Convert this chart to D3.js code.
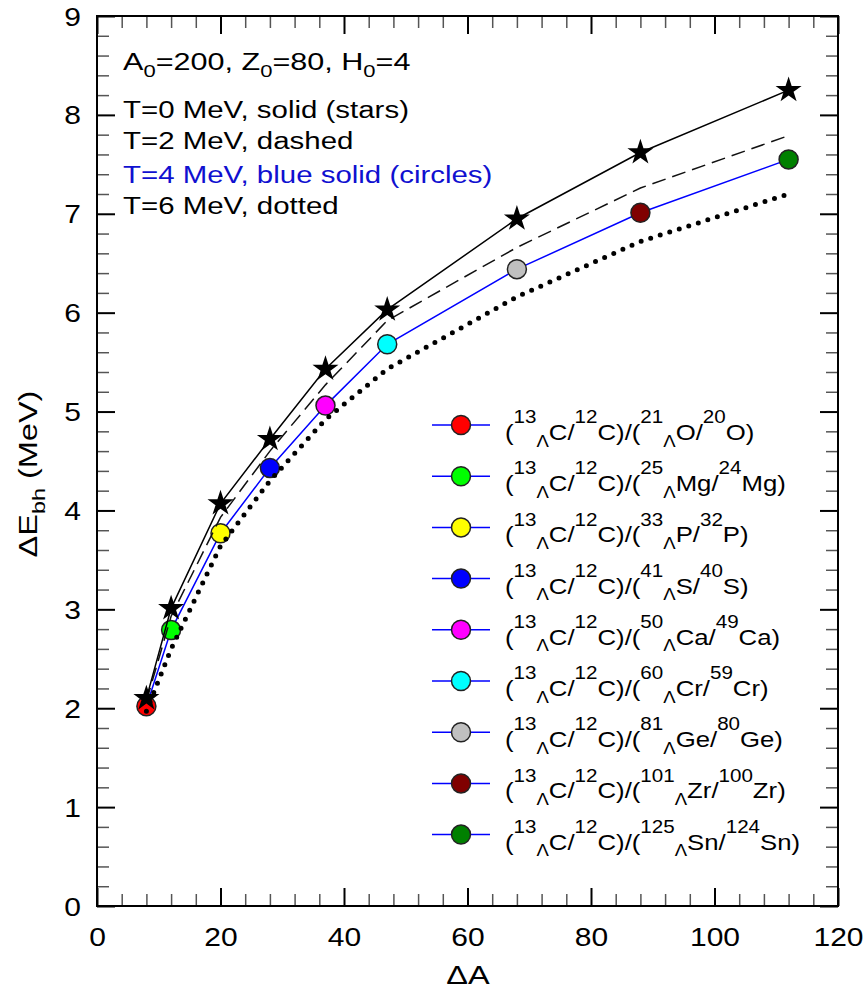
<!DOCTYPE html>
<html>
<head>
<meta charset="utf-8">
<script src="https://cdn.jsdelivr.net/npm/d3@7"></script>
<style>
  body { margin: 0; background: #fff; }
  svg { display: block; }
  text { font-family: "Liberation Sans", Arial, sans-serif; }
</style>
</head>
<body>
<svg id="chart" width="865" height="992"></svg>
<script>

// mass difference dA = A - 13 for each pair
let deltaA = [8, 12, 20, 28, 37, 47, 68, 88, 112];

// dE_bh (MeV) at each temperature
let eT0 = [2.10, 3.01, 4.07, 4.72, 5.43, 6.03, 6.95, 7.62, 8.25];
let eT2 = [2.07, 2.93, 3.93, 4.60, 5.27, 5.92, 6.66, 7.26, 7.79];
let eT4 = [2.02, 2.79, 3.77, 4.43, 5.06, 5.68, 6.44, 7.01, 7.55];
let eT6 = [1.97, 2.60, 3.64, 4.30, 4.92, 5.43, 6.16, 6.72, 7.20];

// legend pairs
let hyperA = [21, 25, 33, 41, 50, 60, 81, 101, 125];
let coreA = [20, 24, 32, 40, 49, 59, 80, 100, 124];
let elements = ['O', 'Mg', 'P', 'S', 'Ca', 'Cr', 'Ge', 'Zr', 'Sn'];
let markerFill = ['#ff0000', '#00ff00', '#ffff00', '#0000ff', '#ff00ff',
                  '#00ffff', '#c0c0c0', '#800000', '#008000'];

let xMajor = [0, 20, 40, 60, 80, 100, 120];
let yMajor = [0, 1, 2, 3, 4, 5, 6, 7, 8, 9];

let Frame = { Left: 97, Top: 16, Right: 838, Bottom: 906 };
let Stretch = 1.25;   // text in the original is drawn wide

let W = Frame.Right - Frame.Left;
let H = Frame.Bottom - Frame.Top;

let svg = d3.select('#chart');
let g = svg.append('g').attr('transform', `translate(${Frame.Left},${Frame.Top})`);

let x = d3.scaleLinear().domain([0, 120]).range([0, W]);
let y = d3.scaleLinear().domain([0, 9]).range([H, 0]);

let xMinor = d3.range(0, 121, 4).filter(v => v % 20 !== 0);
let yMinor = d3.range(0, 9.01, 0.2).filter(v => Math.abs(v - Math.round(v)) > 0.01);

// ---- axes, ticks pointing inward on all four sides
function drawAxis(axisFn, scale, values, size, translate, withLabels) {
    let a = axisFn(scale).tickValues(values).tickSize(-size);
    if (!withLabels) a.tickFormat('');
    let ag = g.append('g').attr('transform', translate).call(a);
    ag.select('.domain').remove();
    ag.selectAll('line')
        .attr('stroke', size > 15 ? '#000' : '#555')
        .attr('stroke-width', size > 15 ? 2 : 1.5);
    return ag;
}

let bottomAx = drawAxis(d3.axisBottom, x, xMajor, 18, `translate(0,${H})`, true);
drawAxis(d3.axisBottom, x, xMinor, 12, `translate(0,${H})`, false);
drawAxis(d3.axisTop, x, xMajor, 18, 'translate(0,0)', false);
drawAxis(d3.axisTop, x, xMinor, 12, 'translate(0,0)', false);
let leftAx = drawAxis(d3.axisLeft, y, yMajor, 18, 'translate(0,0)', true);
drawAxis(d3.axisLeft, y, yMinor, 12, 'translate(0,0)', false);
drawAxis(d3.axisRight, y, yMajor, 18, `translate(${W},0)`, false);
drawAxis(d3.axisRight, y, yMinor, 12, `translate(${W},0)`, false);

bottomAx.selectAll('text')
    .attr('y', null).attr('dy', null)
    .attr('transform', `translate(0,40) scale(1.2,1)`)
    .attr('font-size', 25).attr('fill', '#000');

leftAx.selectAll('text')
    .attr('x', null).attr('dy', '0.36em')
    .attr('transform', `translate(-16,0) scale(1.2,1)`)
    .attr('font-size', 25).attr('fill', '#000');

g.append('rect')
    .attr('width', W).attr('height', H)
    .attr('fill', 'none').attr('stroke', '#000').attr('stroke-width', 2);

// ---- curves
let line = d3.line().x((d, i) => x(deltaA[i])).y(d => y(d));

g.append('path').datum(eT4).attr('d', line)
    .attr('fill', 'none').attr('stroke', '#0000ff').attr('stroke-width', 1.5);

g.selectAll('circle.pt')
    .data(eT4)
    .join('circle')
    .attr('class', 'pt')
    .attr('cx', (d, i) => x(deltaA[i]))
    .attr('cy', d => y(d))
    .attr('r', 9.5)
    .attr('fill', (d, i) => markerFill[i])
    .attr('stroke', '#222').attr('stroke-width', 1.5);

g.append('path').datum(eT2).attr('d', line)
    .attr('fill', 'none').attr('stroke', '#111').attr('stroke-width', 1.5)
    .attr('stroke-dasharray', '14 7');

g.append('path').datum(eT6).attr('d', line)
    .attr('fill', 'none').attr('stroke', '#000').attr('stroke-width', 5)
    .attr('stroke-linecap', 'round').attr('stroke-dasharray', '0 10');

g.append('path').datum(eT0).attr('d', line)
    .attr('fill', 'none').attr('stroke', '#000').attr('stroke-width', 1.5);

g.selectAll('path.star')
    .data(eT0)
    .join('path')
    .attr('class', 'star')
    .attr('transform', (d, i) => `translate(${x(deltaA[i])},${y(d)})`)
    .attr('d', d3.symbol().type(d3.symbolStar).size(210))
    .attr('fill', '#000');

// ---- rich text helper: parts = [[text, 'n'|'sup'|'sub'], ...]
function richText(parent, px, py, parts, size, color, rotate, sx) {
    let t = parent.append('text')
        .attr('transform', `translate(${px},${py})` + (rotate ? ` rotate(${rotate})` : '') + ` scale(${sx || Stretch},1)`)
        .attr('font-size', size)
        .attr('fill', color || '#000');
    let shift = 0;
    parts.forEach(([s, kind]) => {
        let target = kind === 'sup' ? -0.76 * size : kind === 'sub' ? 0.3 * size : 0;
        let fs = kind === 'sup' ? size * 0.8 : kind === 'sub' ? size * 0.72 : size;
        t.append('tspan')
            .attr('dy', target - shift)
            .attr('font-size', fs)
            .text(s);
        shift = target;
    });
    return t;
}

// ---- annotation block
let noteStretch = 1.28;
richText(svg, 123, 70, [['A', 'n'], ['0', 'sub'], ['=200, Z', 'n'], ['0', 'sub'],
    ['=80, H', 'n'], ['0', 'sub'], ['=4', 'n']], 23, '#000', 0, 1.33);
richText(svg, 123, 118, [['T=0 MeV, solid (stars)', 'n']], 23, '#000', 0, noteStretch);
richText(svg, 123, 149, [['T=2 MeV, dashed', 'n']], 23, '#000', 0, noteStretch);
richText(svg, 123, 183, [['T=4 MeV, blue solid (circles)', 'n']], 23, '#1010d0', 0, noteStretch);
richText(svg, 123, 214, [['T=6 MeV, dotted', 'n']], 23, '#000', 0, noteStretch);

// ---- legend
let legendTop = 425, legendStep = 51.2;
let leg = svg.append('g');
elements.forEach((el, i) => {
    let ly = legendTop + i * legendStep;
    leg.append('line')
        .attr('x1', 432).attr('x2', 490).attr('y1', ly).attr('y2', ly)
        .attr('stroke', '#0000ff').attr('stroke-width', 1.5);
    leg.append('circle')
        .attr('cx', 461).attr('cy', ly).attr('r', 9.5)
        .attr('fill', markerFill[i]).attr('stroke', '#222').attr('stroke-width', 1.5);
    richText(leg, 505, ly + 15, [
        ['(', 'n'], ['13', 'sup'], ['\u039B', 'sub'], ['C/', 'n'], ['12', 'sup'], ['C)/(', 'n'],
        [String(hyperA[i]), 'sup'], ['\u039B', 'sub'], [el + '/', 'n'],
        [String(coreA[i]), 'sup'], [el + ')', 'n']
    ], 22, '#000', 0, 1.17);
});

// ---- axis titles
richText(svg, 468, 984, [['\u0394A', 'n']], 26).attr('text-anchor', 'middle');
richText(svg, 37, 474, [['\u0394E', 'n'], ['bh', 'sub'], [' (MeV)', 'n']], 26, '#000', -90)
    .attr('text-anchor', 'middle');

</script>
</body>
</html>
